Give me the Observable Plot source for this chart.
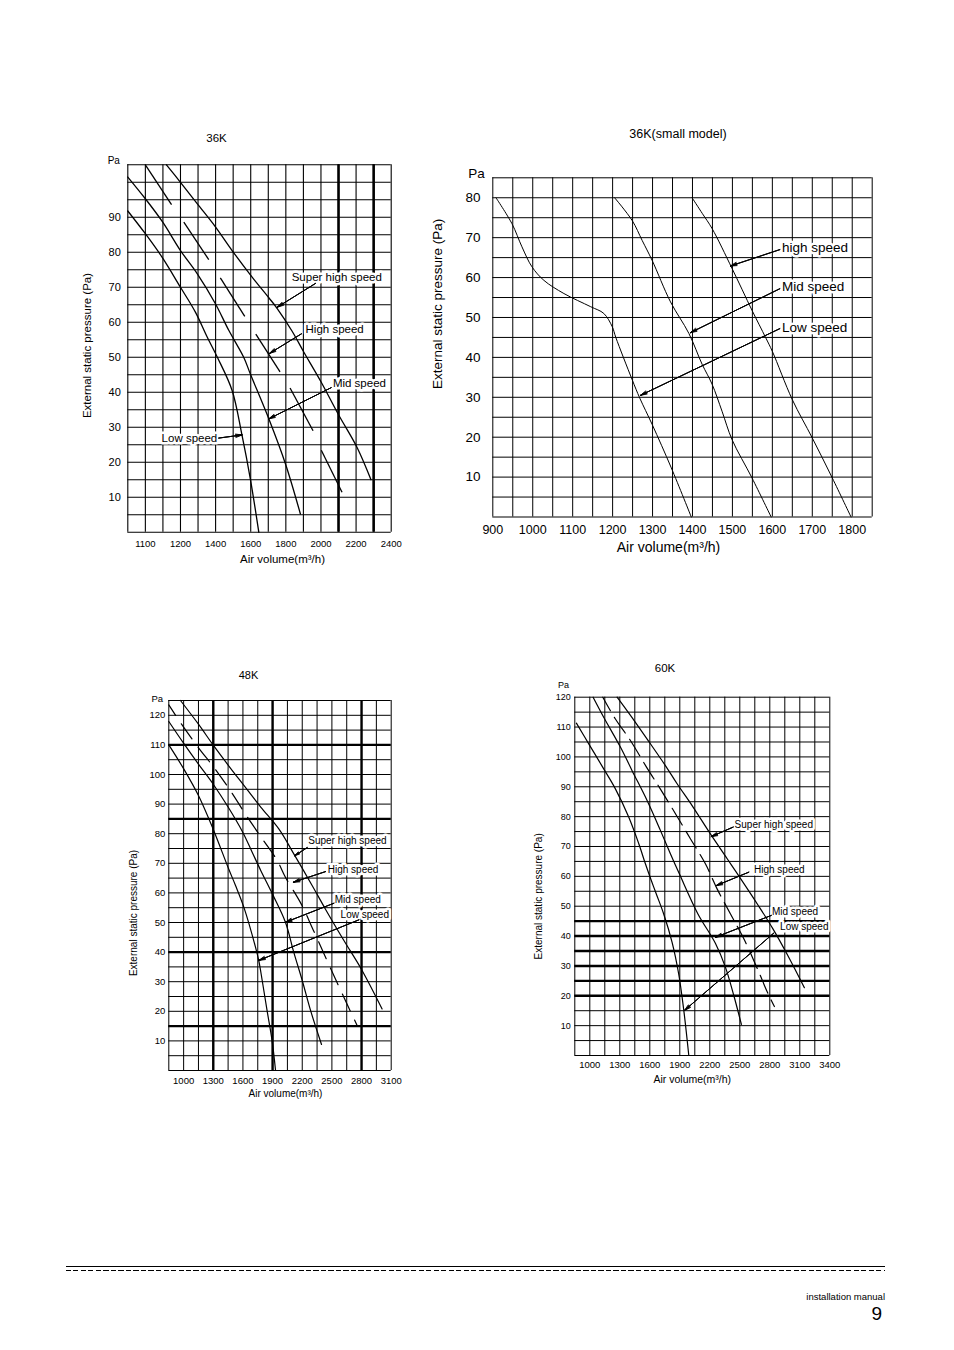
<!DOCTYPE html>
<html><head><meta charset="utf-8">
<script src="https://cdn.jsdelivr.net/npm/d3@7"></script>
<script src="https://cdn.jsdelivr.net/npm/@observablehq/plot@0.6"></script>
<style>
html,body{margin:0;padding:0;background:#fff;}
#page{position:relative;width:954px;height:1350px;background:#fff;font-family:"Liberation Sans",Arial,Helvetica,sans-serif;color:#000;overflow:hidden;}
.chart{position:absolute;}
.chart svg{overflow:visible;max-width:none;display:block;}
.t{position:absolute;transform:translate(-50%,-50%);white-space:nowrap;line-height:1;}
.r{position:absolute;transform:translate(-100%,-50%);white-space:nowrap;line-height:1;}
</style></head>
<body><div id="page"></div>
<script>
// ---------- Chart 1: 36K (x in grid columns, labelled) ----------
const c1Title = "36K";
const c1XTickCols = [1, 3, 5, 7, 9, 11, 13, 15];
const c1XTickLabels = ["1100", "1200", "1400", "1600", "1800", "2000", "2200", "2400"];
const c1YTicks = [10, 20, 30, 40, 50, 60, 70, 80, 90];
const c1Low = [[0,91.8],[1,85.3],[1.95,78.6],[3,70],[3.85,62.9],[4.52,55.8],[5.1,50],[5.94,40.5],[6.5,27.8],[6.98,15.2],[7.46,0]];
const c1Mid = [[0,101.5],[1,95.3],[1.99,88.6],[3,80.5],[3.95,73.9],[4.99,65.3],[5.75,57.7],[6.6,50],[6.98,45.2],[8.03,32.4],[8.98,19.5],[9.83,5.2]];
const c1HighDashes = [[1.0,105,2.49,93.6],[3.19,88.6,4.61,77.9],[5.27,72.7,6.66,61.7],[7.29,56.6,8.67,45.8],[9.24,41.2,10.55,29],[11.02,23.4,12.2,11.4]];
const c1Super = [[2.2,105],[3,100],[3.95,93.9],[5,87.2],[5.94,80.5],[7.08,72.9],[8.03,67],[8.5,64],[9.35,57.5],[10.02,51.5],[11,43],[12.01,33.5],[13.05,24.3],[13.85,15]];
const c1Labels = [["Super high speed",11.9,72.8],["High speed",11.78,57.9],["Mid speed",13.19,42.5],["Low speed",3.51,26.8]];
const c1Arrows = [[10.69,71.1,8.51,64.3],[9.89,56.7,8.07,51.1],[11.58,41.3,8.03,32.4],[5.18,26.9,6.51,27.8]];

// ---------- Chart 2: 36K(small model) ----------
const c2Title = "36K(small model)";
const c2XTicks = [900, 1000, 1100, 1200, 1300, 1400, 1500, 1600, 1700, 1800];
const c2YTicks = [10, 20, 30, 40, 50, 60, 70, 80];
const c2Low = [[908,80],[948,73.5],[973,67.7],[998,62.7],[1028,59.3],[1078,56],[1145,52.7],[1178,51],[1199,47.7],[1208,45],[1249,34.4],[1268,29.8],[1299,23.2],[1347,12.3],[1397,0]];
const c2Mid = [[1205,80],[1249,74.3],[1274,69.3],[1299,64.3],[1345,53.9],[1391,46],[1424,38.3],[1449,33.3],[1474,26.5],[1499,19.4],[1549,9.8],[1597,0]];
const c2High = [[1399,80],[1425,76],[1449,72.3],[1499,62.3],[1549,51.8],[1583,45],[1600,41.5],[1650,29.4],[1700,19.8],[1750,9.8],[1797,0]];
const c2Labels = [["high speed",1624,67.6],["Mid speed",1624,57.7],["Low speed",1624,47.5]];
const c2Arrows = [[1618.6,67.0,1495,62.9],[1618.6,57.2,1395,46.2],[1618.6,47.2,1270,30.5]];

// ---------- Chart 3: 48K ----------
const c3Title = "48K";
const c3XTicks = [1000, 1300, 1600, 1900, 2200, 2500, 2800, 3100];
const c3YTicks = [10, 20, 30, 40, 50, 60, 70, 80, 90, 100, 110, 120];
const c3Low = [[850,110],[1001,101.9],[1150,92.9],[1298,81.6],[1457,68],[1525,62.5],[1609,55.2],[1727,41.7],[1760,37.2],[1795,30.4],[1844,20.3],[1895,10.1],[1930,0]];
const c3Mid = [[850,117.9],[1001,110.5],[1150,103.5],[1298,96.8],[1450,89],[1598,80.5],[1690,74],[1780,67.6],[1900,59.5],[2030,50.1],[2114,40],[2200,30.4],[2284,20.3],[2395,8.8]];
const c3High = [[850,123.5],[977,117.1],[1147,109.2],[1322,101.7],[1484,94],[1625,86.6],[1795,78.3],[1946,71],[2030,65.3],[2189,56.3],[2311,47.5],[2543,30.4],[2755,15.2]];
const c3Super = [[968,125],[1150,117],[1298,110],[1450,103.2],[1598,96.8],[1780,89],[1963,81.6],[2125,72.6],[2300,62.5],[2435,54.5],[2620,44],[2797,34.3],[3008,20.8]];
const c3Labels = [["Super high speed",2657,77.6],["High speed",2714,67.8],["Mid speed",2762,57.7],["Low speed",2833,52.6]];
const c3Arrows = [[2250,75.3,2125,72.6],[2436,67.2,2110,63.6],[2520,56.5,2031,50.1],[2773,50.9,1761,37.2]];

// ---------- Chart 4: 60K ----------
const c4Title = "60K";
const c4XTicks = [1000, 1300, 1600, 1900, 2200, 2500, 2800, 3100, 3400];
const c4YTicks = [10, 20, 30, 40, 50, 60, 70, 80, 90, 100, 110, 120];
const c4Low = [[866,111.3],[1000,103.8],[1139,96],[1256,89.3],[1390,79.8],[1490,70.9],[1556,64.2],[1615,58.6],[1666,54],[1739,47.4],[1823,37.9],[1889,27.3],[1940,15.1],[1990,0]];
const c4Mid = [[1033,120],[1139,113.3],[1306,103.3],[1423,95.4],[1573,85.4],[1706,75.4],[1807,67.5],[1900,60.5],[2080,47.5],[2257,37.5],[2356,29.6],[2440,20.1],[2516,10.4]];
const c4High = [[1130,120],[1256,112.7],[1406,105.5],[1567,96.6],[1714,88.8],[1867,80.4],[2006,72.6],[2156,64.2],[2273,55.8],[2407,47.4],[2549,38.5],[2683,28.5],[2780,20.9],[2846,16.4]];
const c4Super = [[1273,120],[1456,111.6],[1606,104.4],[1756,97.1],[1873,91],[2023,83.7],[2206,74.2],[2374,65.9],[2473,61],[2680,50.5],[2830,42.5],[2980,33.5],[3146,22.7]];
const c4Labels = [["Super high speed",2840,77.4],["High speed",2895,62.3],["Mid speed",3052,48],["Low speed",3145,43.2]];
const c4Arrows = [[2434,76.5,2214,73.3],[2590,61.4,2264,56.9],[2814,46.9,2257,39.6],[2840,41,1947,15.1]];

const yAxisTitle = "External static pressure (Pa)";
const xAxisTitle = "Air volume(m\u00b3/h)";
const unitTitle = "Pa";

// ---------- helpers ----------
const FONT = '"Liberation Sans", Arial, Helvetica, sans-serif';
const page = document.getElementById("page");
const px = d => d[0], py = d => d[1];

function place(node, left, top) {
  const w = document.createElement("div");
  w.className = "chart";
  w.style.left = left + "px"; w.style.top = top + "px";
  w.appendChild(node); page.appendChild(w);
}
function htmlText(txt, cx, cy, size, cls = "t") {
  const d = document.createElement("div");
  d.className = cls; d.textContent = txt;
  d.style.left = cx + "px"; d.style.top = cy + "px"; d.style.fontSize = size + "px";
  page.appendChild(d);
}
function grid(gx, gy, tx, ty, gw, tw) {
  return [
    Plot.ruleX(gx, {stroke: "#000", strokeWidth: gw}),
    Plot.ruleY(gy, {stroke: "#000", strokeWidth: gw}),
    Plot.ruleX(tx, {stroke: "#000", strokeWidth: tw}),
    Plot.ruleY(ty, {stroke: "#000", strokeWidth: tw})
  ];
}
function curve(data, sw, extra = {}) {
  return Plot.line(data, {x: px, y: py, curve: "catmull-rom", stroke: "#000", strokeWidth: sw, ...extra});
}
function annotations(labels, arrows, fs, anchor) {
  return [
    Plot.text(labels, {x: d => d[1], y: d => d[2], text: d => d[0], fontSize: fs, textAnchor: anchor, lineAnchor: "middle",
      fill: "#000", stroke: "#fff", strokeWidth: 5, strokeLinejoin: "round", paintOrder: "stroke"}),
    ...[30, 18, 8].map(a => Plot.arrow(arrows, {x1: d => d[0], y1: d => d[1], x2: d => d[2], y2: d => d[3],
      stroke: "#000", strokeWidth: 0.9, headAngle: a, headLength: 11}))
  ];
}
function frameText(t, anchor, dx, dy, fs, rotate = 0) {
  return Plot.text([t], {text: d => d, frameAnchor: anchor, dx, dy, fontSize: fs, rotate, fill: "#000",
    textAnchor: "middle", lineAnchor: "middle"});
}
const style = fs => ({fontFamily: FONT, fontSize: fs + "px", color: "#000", background: "transparent", overflow: "visible"});

// ---------- Chart 1 ----------
place(Plot.plot({
  width: 350, height: 430, marginLeft: 67.3, marginTop: 19.3, marginRight: 19.3, marginBottom: 43.3,
  x: {domain: [0, 15], axis: null}, y: {domain: [0, 105], axis: null},
  style: style(11),
  marks: [
    ...grid(d3.range(0, 16), d3.range(0, 106, 5), [12, 14], [], 1.1, 2.6),
    curve(c1Low, 1.3), curve(c1Mid, 1.3), curve(c1Super, 1.3),
    Plot.link(c1HighDashes, {x1: d => d[0], y1: d => d[1], x2: d => d[2], y2: d => d[3], stroke: "#000", strokeWidth: 1.3}),
    Plot.axisY(c1YTicks, {tickSize: 0, tickPadding: 7, fontSize: 11, label: null}),
    Plot.axisX(c1XTickCols, {tickSize: 0, tickPadding: 7.6, fontSize: 9.5, label: null,
      tickFormat: d => c1XTickLabels[c1XTickCols.indexOf(d)]}),
    frameText(unitTitle, "top-left", -14, -4, 10),
    frameText(yAxisTitle, "left", -40, -3, 11.5, -90),
    frameText(xAxisTitle, "bottom", 23, 27, 11.5),
    ...annotations(c1Labels, c1Arrows, 11.5, "middle")
  ]
}), 60, 145);
htmlText(c1Title, 216.5, 138.5, 11.5);

// ---------- Chart 2 ----------
place(Plot.plot({
  width: 460, height: 410, marginLeft: 67.3, marginTop: 27.3, marginRight: 13.3, marginBottom: 43.5,
  x: {domain: [900, 1850], axis: null}, y: {domain: [0, 85], axis: null},
  style: style(13),
  marks: [
    ...grid(d3.range(900, 1851, 50), d3.range(0, 86, 5), [], [], 1, 1),
    curve(c2Low, 1), curve(c2Mid, 1), curve(c2High, 1),
    Plot.axisY(c2YTicks, {tickSize: 0, tickPadding: 12.3, fontSize: 13.5, label: null}),
    Plot.axisX(c2XTicks, {tickSize: 0, tickPadding: 8.3, fontSize: 12.5, label: null, tickFormat: d => String(d)}),
    frameText(unitTitle, "top-left", -16.3, -4, 13.5),
    frameText(yAxisTitle, "left", -55.3, -43.5, 13.5, -90),
    frameText(xAxisTitle, "bottom", -14, 31, 14),
    ...annotations(c2Labels, c2Arrows, 13.5, "start")
  ]
}), 425, 150);
htmlText(c2Title, 678, 133.5, 12.5);

// ---------- Chart 3 ----------
place(Plot.plot({
  width: 290, height: 445, marginLeft: 48.3, marginTop: 40, marginRight: 19.3, marginBottom: 35,
  x: {domain: [850, 3100], axis: null}, y: {domain: [0, 125], axis: null},
  style: style(9.5),
  marks: [
    ...grid(d3.range(850, 3101, 150), d3.range(0, 126, 5), [1300, 1900, 2800], [15, 40, 85, 110], 1, 2.4),
    curve(c3Low, 1.2), curve(c3Mid, 1.2), curve(c3Super, 1.2),
    curve(c3High, 1.2, {strokeDasharray: "18.5,10.2", strokeDashoffset: 6}),
    Plot.axisY(c3YTicks, {tickSize: 0, tickPadding: 3.5, fontSize: 9.5, label: null}),
    Plot.axisX(c3XTicks, {tickSize: 0, tickPadding: 6.6, fontSize: 9.5, label: null, tickFormat: d => String(d)}),
    frameText(unitTitle, "top-left", -11.6, -1.7, 9.5),
    frameText(yAxisTitle, "left", -35.3, 27.5, 10, -90),
    frameText(xAxisTitle, "bottom", 5.5, 23, 10),
    ...annotations(c3Labels, c3Arrows, 10, "middle")
  ]
}), 120, 660);
htmlText(c3Title, 248.5, 674.5, 11);

// ---------- Chart 4 ----------
place(Plot.plot({
  width: 320, height: 440, marginLeft: 49.3, marginTop: 41.7, marginRight: 15.7, marginBottom: 40,
  x: {domain: [850, 3400], axis: null}, y: {domain: [0, 120], axis: null},
  style: style(9.5),
  marks: [
    ...grid(d3.range(850, 3401, 150), d3.range(0, 121, 5), [], [20, 25, 30, 35, 40, 45], 1, 2.4),
    curve(c4Low, 1.2), curve(c4Mid, 1.2), curve(c4Super, 1.2),
    curve(c4High, 1.2, {strokeDasharray: "19.5,7.5", strokeDashoffset: 4}),
    Plot.axisY(c4YTicks, {tickSize: 0, tickPadding: 4, fontSize: 9, label: null}),
    Plot.axisX(c4XTicks, {tickSize: 0, tickPadding: 6, fontSize: 9.5, label: null, tickFormat: d => String(d)}),
    frameText(unitTitle, "top-left", -11.3, -12.4, 9),
    frameText(yAxisTitle, "left", -36.3, 20, 10, -90),
    frameText(xAxisTitle, "bottom", -10, 24, 10.5),
    ...annotations(c4Labels, c4Arrows, 10, "middle")
  ]
}), 525, 655);
htmlText(c4Title, 665, 669, 11.5);

// ---------- footer ----------
const solid = document.createElement("div");
Object.assign(solid.style, {position: "absolute", left: "66px", top: "1266px", width: "819px", height: "1.3px", background: "#000"});
page.appendChild(solid);
const dashed = document.createElement("div");
Object.assign(dashed.style, {position: "absolute", left: "66px", top: "1269.5px", width: "819px", height: "1.6px",
  background: "repeating-linear-gradient(to right, #000 0 5px, transparent 5px 7.5px)"});
page.appendChild(dashed);
htmlText("installation manual", 885, 1297, 9.5, "r");
htmlText("9", 882, 1313, 19, "r");
</script>
</body></html>
